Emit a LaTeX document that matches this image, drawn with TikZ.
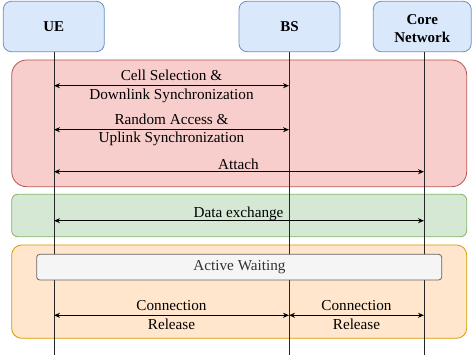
\documentclass[tikz,border=0pt]{standalone}
\usepackage{fontspec}
\setmainfont{Liberation Serif}
\usetikzlibrary{arrows.meta}
\definecolor{hdrfill}{HTML}{DAE8FC}\definecolor{hdrdraw}{HTML}{6C8EBF}
\definecolor{redfill}{HTML}{F8CECC}\definecolor{reddraw}{HTML}{B85450}
\definecolor{grnfill}{HTML}{D5E8D4}\definecolor{grndraw}{HTML}{82B366}
\definecolor{orgfill}{HTML}{FFE6CC}\definecolor{orgdraw}{HTML}{D79B00}
\definecolor{gryfill}{HTML}{F5F5F5}\definecolor{grydraw}{HTML}{666666}
\definecolor{grytext}{HTML}{333333}
\tikzset{
  hdr/.style={draw=hdrdraw,fill=hdrfill,rounded corners=8pt,line width=0.8pt},
  region/.style={rounded corners=#1,line width=0.8pt},
  lifeline/.style={draw=black!85,line width=0.8pt},
  msg/.style={draw=black,line width=0.8pt,{Stealth[length=6pt,width=5pt]}-{Stealth[length=6pt,width=5pt]}},
  lbl/.style={font=\fontsize{15.2}{19}\selectfont,inner sep=0pt},
  hlbl/.style={font=\fontsize{15}{18.5}\selectfont\bfseries,inner sep=0pt,align=center},
}
\begin{document}
\begin{tikzpicture}[x=1pt,y=-1pt]
\useasboundingbox (0,0) rectangle (472,355);
% header boxes
\draw[hdr] (3.3,1.3) rectangle (104.3,51.7);
\draw[hdr] (239,1.3) rectangle (340,51.7);
\draw[hdr] (373.3,1.3) rectangle (471.2,51.7);
\node[hlbl] (ue) at (53.8,27) {UE};
\node[hlbl] (bs) at (289.5,27) {BS};
\node[hlbl] (cn) at (422.3,28.5) {Core\\Network};
% regions
\draw[region=15pt,draw=reddraw,fill=redfill] (11.7,60) rectangle (466.7,186.7);
\draw[region=6pt,draw=grndraw,fill=grnfill] (11.7,194.3) rectangle (466.7,236.7);
\draw[region=10pt,draw=orgdraw,fill=orgfill] (11.7,245) rectangle (466.7,338.3);
% lifelines
\coordinate (uetop) at (54,51.7); \coordinate (uebot) at (54,355);
\coordinate (bstop) at (289,51.7); \coordinate (bsbot) at (289,355);
\coordinate (cntop) at (424,51.7); \coordinate (cnbot) at (424,355);
\draw[lifeline] (uetop) -- (uebot);
\draw[lifeline] (bstop) -- (bsbot);
\draw[lifeline] (cntop) -- (cnbot);
% active waiting
\draw[draw=grydraw,fill=gryfill,rounded corners=3pt,line width=0.8pt] (36.7,254.3) rectangle (441.7,280);
\node[lbl,text=grytext] (aw) at (239.5,267.5) {Active Waiting};
% messages
\coordinate (a1) at (54,85.7); \coordinate (b1) at (289,85.7);
\draw[msg] (a1) -- (b1);
\node[lbl] (t1a) at (171.5,75.7) {Cell Selection \&};
\node[lbl] (t1b) at (171.5,95.5) {Downlink Synchronization};
\coordinate (a2) at (54,129.7); \coordinate (b2) at (289,129.7);
\draw[msg] (a2) -- (b2);
\node[lbl] (t2a) at (171.5,119.5) {Random Access \&};
\node[lbl] (t2b) at (171.5,138.5) {Uplink Synchronization};
\coordinate (a3) at (54,171.7); \coordinate (c3) at (424,171.7);
\draw[msg] (a3) -- (c3);
\node[lbl] (t3) at (238.5,164.3) {Attach};
\coordinate (a4) at (54,220.7); \coordinate (c4) at (424,220.7);
\draw[msg] (a4) -- (c4);
\node[lbl] (t4) at (238.5,213.8) {Data exchange};
\coordinate (a5) at (54,315.3); \coordinate (b5) at (289,315.3); \coordinate (c5) at (424,315.3);
\draw[msg] (a5) -- (b5);
\draw[msg] (b5) -- (c5);
\node[lbl] (t5a) at (171.5,305.3) {Connection};
\node[lbl] (t5b) at (171.5,324.5) {Release};
\node[lbl] (t6a) at (356.5,305.3) {Connection};
\node[lbl] (t6b) at (356.5,324.5) {Release};
\end{tikzpicture}
\end{document}
